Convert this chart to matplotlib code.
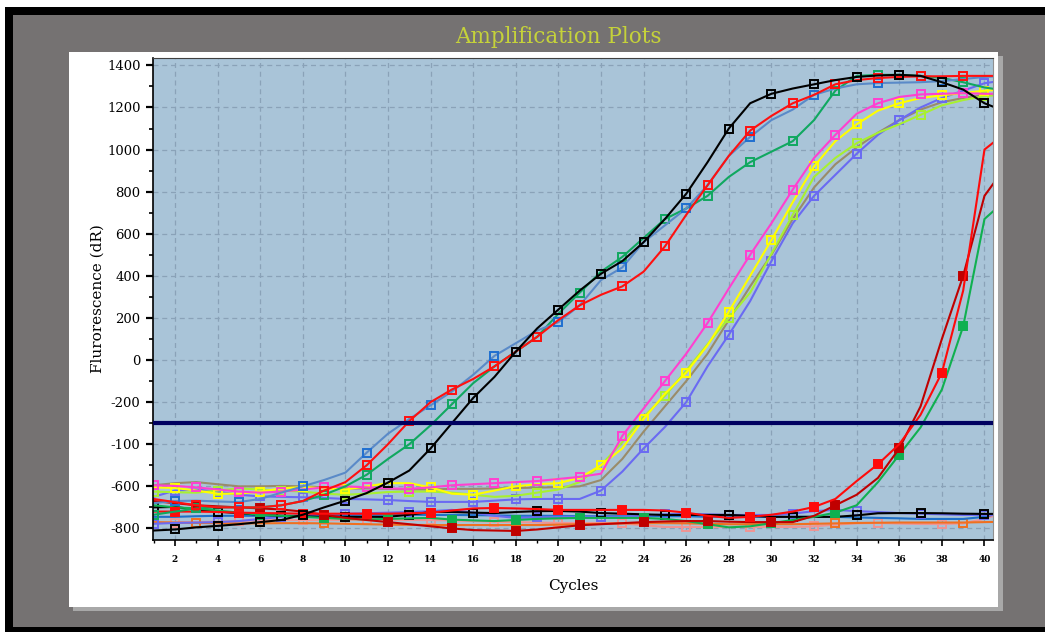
import matplotlib
matplotlib.use("Agg")
import matplotlib.pyplot as plt
from matplotlib.patches import Rectangle
from matplotlib.ticker import MultipleLocator

cycles = list(range(1, 42))

# early amplifying wells (Ct ~12-15)
black_amp = [-810, -805, -795, -788, -780, -770, -760, -735, -700, -668, -632, -582, -525, -420, -300, -180, -80, 40, 150, 240,
             330, 410, 470, 560, 670, 790, 940, 1100, 1220, 1265, 1290, 1310, 1330, 1345, 1352, 1355, 1350, 1320, 1285, 1220, 1180]
blue_amp = [-680, -670, -668, -672, -675, -660, -630, -600, -570, -535, -440, -350, -280, -215, -150, -70, 20, 80, 140, 180,
            260, 380, 440, 560, 640, 720, 830, 970, 1060, 1140, 1190, 1260, 1290, 1310, 1316, 1318, 1320, 1325, 1335, 1345, 1350]
red_amp = [-660, -675, -690, -700, -700, -700, -690, -670, -620, -580, -500, -400, -290, -200, -140, -90, -30, 40, 110, 190,
           260, 310, 350, 420, 540, 690, 830, 970, 1090, 1160, 1220, 1260, 1310, 1330, 1340, 1345, 1348, 1348, 1350, 1350, 1350]
green_amp = [-735, -720, -705, -700, -700, -700, -690, -670, -640, -600, -545, -470, -400, -310, -210, -110, -30, 40, 110, 220,
             320, 420, 490, 580, 670, 720, 780, 870, 940, 990, 1040, 1140, 1280, 1350, 1355, 1355, 1350, 1340, 1320, 1295, 1280]

# mid wells (Ct ~24-25)
magenta = [-595, -598, -605, -615, -625, -630, -625, -615, -605, -600, -605, -610, -612, -605, -595, -590, -585, -580, -575, -565,
           -555, -540, -360, -230, -100, 30, 176, 340, 500, 650, 810, 960, 1070, 1170, 1220, 1250, 1262, 1265, 1268, 1265, 1265]
yellow = [-605, -608, -620, -635, -635, -625, -610, -603, -610, -615, -600, -585, -585, -605, -635, -640, -620, -600, -590, -585,
          -560, -500, -420, -280, -160, -60, 70, 230, 400, 570, 750, 920, 1040, 1120, 1185, 1220, 1245, 1258, 1268, 1280, 1285]
lime = [-625, -628, -630, -620, -610, -615, -620, -625, -635, -640, -635, -627, -625, -625, -630, -640, -650, -645, -630, -615,
        -580, -500, -390, -270, -170, -50, 75, 200, 320, 505, 690, 870, 960, 1030, 1080, 1120, 1165, 1210, 1235, 1254, 1262]
khaki = [-595, -585, -580, -590, -600, -600, -598, -600, -605, -610, -610, -612, -615, -615, -612, -612, -610, -608, -606, -604,
         -600, -570, -470, -340, -220, -100, 30, 190, 350, 500, 670, 820, 930, 1010, 1080, 1140, 1190, 1225, 1245, 1260, 1265]
slate = [-650, -620, -615, -625, -640, -648, -650, -652, -655, -660, -662, -665, -670, -674, -674, -674, -668, -662, -660, -660,
         -660, -620, -530, -420, -318, -200, -30, 120, 280, 470, 650, 780, 880, 980, 1070, 1140, 1200, 1245, 1280, 1315, 1330]

# late wells (Ct ~36-37)
red_late = [-720, -720, -720, -722, -725, -727, -728, -730, -730, -730, -730, -730, -728, -725, -715, -705, -703, -705, -708, -712,
            -712, -712, -712, -712, -715, -725, -740, -750, -745, -735, -720, -698, -660, -575, -495, -400, -260, -60, 330, 1000, 1080]
darkred_late = [-670, -680, -690, -695, -700, -705, -710, -720, -735, -750, -760, -770, -780, -790, -800, -808, -810, -812, -805, -795,
                -785, -780, -775, -770, -767, -765, -765, -768, -770, -770, -770, -740, -690, -640, -560, -420, -220, 100, 400, 780, 920]
green_late = [-690, -700, -705, -715, -725, -735, -740, -745, -750, -755, -757, -755, -752, -750, -758, -762, -765, -760, -755, -752,
              -750, -750, -750, -750, -755, -765, -780, -795, -790, -775, -760, -745, -725, -690, -580, -450, -320, -140, 160, 670, 760]

# no amplification
black_flat = [-700, -698, -710, -720, -728, -735, -740, -742, -745, -745, -745, -745, -735, -722, -722, -725, -727, -722, -718, -717,
              -720, -727, -730, -733, -736, -736, -736, -736, -740, -745, -745, -745, -745, -738, -728, -727, -727, -728, -730, -731, -731]
blue_flat = [-745, -745, -742, -740, -740, -740, -740, -740, -738, -736, -735, -735, -735, -736, -736, -737, -738, -740, -740, -740,
             -742, -742, -742, -742, -742, -742, -745, -745, -745, -745, -745, -745, -745, -748, -750, -752, -755, -755, -755, -745, -720]
orange_flat = [-770, -772, -774, -775, -776, -776, -775, -775, -776, -778, -780, -782, -783, -784, -784, -784, -784, -784, -784, -782,
               -780, -778, -776, -775, -775, -776, -778, -780, -780, -780, -780, -778, -776, -774, -773, -772, -772, -772, -772, -770, -768]
salmon_flat = [-775, -772, -770, -768, -765, -762, -760, -760, -760, -760, -760, -760, -760, -760, -762, -765, -768, -770, -772, -774,
               -774, -774, -776, -785, -793, -793, -793, -793, -793, -793, -793, -790, -782, -776, -774, -777, -779, -779, -776, -755, -720]
slate_flat = [-778, -774, -772, -770, -765, -755, -745, -738, -735, -730, -728, -725, -722, -718, -712, -725, -740, -750, -748, -745,
              -745, -745, -745, -740, -733, -731, -733, -736, -736, -736, -730, -718, -712, -718, -722, -727, -730, -733, -736, -736, -736]

threshold = -300
y_ticks = [1400, 1200, 1000, 800, 600, 400, 200, 0, -200, -400, -600, -800]
y_tick_labels = ["1400", "1200", "1000", "800", "600", "400", "200", "0", "-200", "-100", "-600", "-800"]
x_ticks = list(range(2, 41, 2))

fig = plt.figure(figsize=(10.45, 6.32), dpi=100)
fig.patch.set_facecolor("white")
W, H = 1045.0, 632.0

def frac_rect(x0, y0, x1, y1, color, z):
    fig.patches.append(Rectangle((x0 / W, 1 - y1 / H), (x1 - x0) / W, (y1 - y0) / H,
                                 transform=fig.transFigure, facecolor=color, edgecolor="none", zorder=z))

frac_rect(5, 7, 1045, 632, "black", -4)
frac_rect(13, 15, 1045, 627, "#757272", -3)
frac_rect(73, 56, 1003, 611, "#a8a8a8", -2)
frac_rect(69, 52, 998, 607, "white", -1)

fig.text(0.534, 0.9415, "Amplification Plots", color="#c5d23a", fontsize=15.5,
         family="DejaVu Serif", ha="center", va="center")

ax = fig.add_axes([153 / W, 1 - 540 / H, 840 / W, 482 / H])
ax.set_zorder(5)
ax.set_facecolor("#a9c4d8")

series = [
    (salmon_flat, "#f09494", "#f09494", "none", (1, 3)),
    (orange_flat, "#f07020", "#f07020", "none", (2, 6)),
    (blue_flat, "#1f70c8", "#1f70c8", "none", None),
    (slate_flat, "#6a6af2", "#6a6af2", "none", (0, 3)),
    (black_flat, "black", "black", "none", (0, 3)),
    (green_late, "#10b050", "#10b050", "#10b050", (2, 3)),
    (darkred_late, "#c00000", "#c00000", "#c00000", (2, 3)),
    (red_late, "#ff0a0a", "#ff0a0a", "#ff0a0a", (1, 3)),
    (khaki, "#9a8c6a", "#9a8c6a", "none", None),
    (slate, "#6a6af2", "#6a6af2", "none", (1, 2)),
    (lime, "#a8f030", "#a8f030", "none", (0, 3)),
    (yellow, "#ffff00", "#ffff00", "none", (1, 2)),
    (magenta, "#ff40d0", "#ff40d0", "none", (0, 2)),
    (green_amp, "#10a860", "#10a860", "none", (0, 2)),
    (blue_amp, "#5a8ac8", "#1f6fd0", "none", (1, 3)),
    (red_amp, "#ff1010", "#ff1010", "none", (2, 2)),
    (black_amp, "black", "black", "none", (1, 2)),
]
for vals, lc, mec, mfc, me in series:
    if me is None:
        ax.plot(cycles, vals, color=lc, lw=1.5)
    else:
        ax.plot(cycles, vals, color=lc, lw=1.5, marker="s", markersize=5.5,
                markeredgewidth=1.4, markeredgecolor=mec, markerfacecolor=mfc, markevery=me)

ax.axhline(threshold, color="#000060", lw=3, zorder=5)

ax.set_xlim(0.97, 40.4)
ax.set_ylim(-855, 1435)

ax.set_xticks(x_ticks)
ax.set_xticklabels([str(t) for t in x_ticks], fontsize=6.5, fontweight="bold", family="DejaVu Serif")
ax.xaxis.set_minor_locator(MultipleLocator(1))
ax.set_yticks(y_ticks)
ax.set_yticklabels(y_tick_labels, fontsize=9.5, family="DejaVu Serif")
ax.yaxis.set_minor_locator(MultipleLocator(100))
ax.tick_params(axis="x", which="major", direction="out", length=4, width=1.2, pad=7)
ax.tick_params(axis="x", which="minor", direction="out", length=2, width=1)
ax.tick_params(axis="y", which="major", direction="out", length=5, width=1.6, pad=4)
ax.tick_params(axis="y", which="minor", direction="out", length=3, width=1.2)

ax.grid(True, which="major", color="#8aa2b8", lw=0.9, linestyle=(0, (4, 3)))
ax.set_axisbelow(True)

for side in ["left", "bottom"]:
    ax.spines[side].set_color("black")
    ax.spines[side].set_linewidth(1.2)
ax.spines["top"].set_color("#404040")
ax.spines["right"].set_color("#909090")

ax.set_ylabel("Flurorescence (dR)", fontsize=11, family="DejaVu Serif")
ax.yaxis.set_label_coords(-0.058, 0.5)
ax.set_xlabel("Cycles", fontsize=11, family="DejaVu Serif")
ax.xaxis.set_label_coords(0.5, -0.081)

fig.savefig("out.png", dpi=100)
